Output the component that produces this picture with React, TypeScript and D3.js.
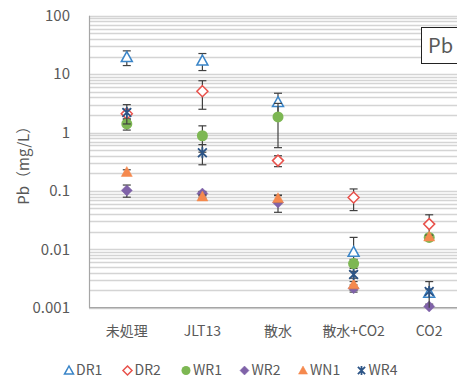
import React, { useEffect, useRef } from 'react';
import * as d3 from 'd3';

// categories and series values (Pb, mg/L)
const categories = ['未処理', 'JLT13', '散水', '散水+CO2', 'CO2'];
const seriesNames = ['DR1', 'DR2', 'WR1', 'WR2', 'WN1', 'WR4'];

const dr1 = [19.5, 17, 3.3, 0.009, 0.0018];
const dr1Err = [5.5, 5.5, 1.4, 0.007, 0.0003];
const dr2 = [2.1, 5.1, 0.33, 0.077, 0.027];
const dr2Err = [0.4, 2.6, 0.07, 0.031, 0.012];
const wr1 = [1.4, 0.88, 1.85, 0.0057, 0.016];
const wr1Err = [0.3, 0.42, 1.3, 0.001, 0.001];
const wr2 = [0.102, 0.09, 0.063, 0.00215, 0.00105];
const wr2Err = [0.024, 0.008, 0.02, 0.0003, 0.0001];
const wn1 = [0.21, 0.08, 0.075, 0.0025, 0.0165];
const wn1Err = [0.02, 0.005, 0.01, 0.0003, 0.001];
const wr4 = [2.2, 0.45, null, 0.0037, 0.0019];
const wr4Err = [0.8, 0.17, null, 0.0005, 0.0009];

const yTicks = [0.001, 0.01, 0.1, 1, 10, 100];
const yTickLabels = ['0.001', '0.01', '0.1', '1', '10', '100'];

type Marker = 'triOpen' | 'diaOpen' | 'circle' | 'diamond' | 'triangle' | 'star';

const styles: { marker: Marker; color: string }[] = [
  { marker: 'triOpen', color: '#3a85c8' },
  { marker: 'diaOpen', color: '#e8524c' },
  { marker: 'circle', color: '#7db753' },
  { marker: 'diamond', color: '#7f62a8' },
  { marker: 'triangle', color: '#f5894e' },
  { marker: 'star', color: '#2c5486' },
];

const values = [dr1, dr2, wr1, wr2, wn1, wr4];
const errors = [dr1Err, dr2Err, wr1Err, wr2Err, wn1Err, wr4Err];

function drawMarker(g: any, type: Marker, color: string, cx: number, cy: number, s: number) {
  const h = s / 2;
  if (type === 'triOpen' || type === 'triangle') {
    const p = `M${cx},${cy - h}L${cx + h},${cy + h * 0.8}L${cx - h},${cy + h * 0.8}Z`;
    g.append('path').attr('d', p)
      .attr('fill', type === 'triangle' ? color : '#fff')
      .attr('stroke', color).attr('stroke-width', type === 'triangle' ? 0.5 : 1.5);
  } else if (type === 'diaOpen' || type === 'diamond') {
    const p = `M${cx},${cy - h}L${cx + h},${cy}L${cx},${cy + h}L${cx - h},${cy}Z`;
    g.append('path').attr('d', p)
      .attr('fill', type === 'diamond' ? color : '#fff')
      .attr('stroke', color).attr('stroke-width', type === 'diamond' ? 0.5 : 1.5);
  } else if (type === 'circle') {
    g.append('circle').attr('cx', cx).attr('cy', cy).attr('r', h).attr('fill', color);
  } else {
    const a = h * 0.8;
    g.append('path')
      .attr('d', `M${cx - a},${cy - a}L${cx + a},${cy + a}M${cx - a},${cy + a}L${cx + a},${cy - a}M${cx},${cy - h}L${cx},${cy + h}`)
      .attr('fill', 'none').attr('stroke', color).attr('stroke-width', 1.8);
  }
}

export default function App() {
  const ref = useRef<HTMLDivElement>(null);

  useEffect(() => {
    const width = 457;
    const height = 378;
    const margin = { top: 15.7, left: 89, bottom: 70.3 };
    const plotRight = 467; // plot runs past the right edge of the picture

    d3.select(ref.current).selectAll('*').remove();

    const svg = d3.select(ref.current)
      .append('svg')
      .attr('width', width)
      .attr('height', height)
      .style('position', 'absolute')
      .style('left', '0px')
      .style('top', '0px')
      .style('background', '#fff')
      .style('font-family', '"Noto Sans CJK JP", "Noto Sans", sans-serif');

    const x = d3.scaleBand()
      .domain(categories)
      .range([margin.left, plotRight]);

    const y = d3.scaleLog()
      .domain([0.001, 100])
      .range([height - margin.bottom, margin.top]);

    // gridlines at every minor tick
    svg.append('g')
      .selectAll('line')
      .data(y.ticks())
      .enter()
      .append('line')
      .attr('x1', margin.left)
      .attr('x2', plotRight)
      .attr('y1', d => Math.round(y(d)) + 0.5)
      .attr('y2', d => Math.round(y(d)) + 0.5)
      .attr('stroke', '#d4d4d4')
      .attr('stroke-width', 1.3);

    // axis lines
    svg.append('line')
      .attr('x1', margin.left + 0.5).attr('x2', margin.left + 0.5)
      .attr('y1', y(100)).attr('y2', y(0.001))
      .attr('stroke', '#a6a6a6').attr('stroke-width', 1.2);
    svg.append('line')
      .attr('x1', margin.left).attr('x2', plotRight)
      .attr('y1', y(0.001)).attr('y2', y(0.001))
      .attr('stroke', '#a6a6a6').attr('stroke-width', 1.2);

    // y tick labels
    svg.append('g')
      .selectAll('text')
      .data(yTicks)
      .enter()
      .append('text')
      .attr('x', 70)
      .attr('y', d => y(d))
      .attr('dy', '0.35em')
      .attr('text-anchor', 'end')
      .attr('font-size', 15)
      .attr('fill', '#595959')
      .text((_, i) => yTickLabels[i]);

    // category labels
    svg.append('g')
      .selectAll('text')
      .data(categories)
      .enter()
      .append('text')
      .attr('x', d => (x(d) as number) + x.bandwidth() / 2)
      .attr('y', 331)
      .attr('dy', '0.35em')
      .attr('text-anchor', 'middle')
      .attr('font-size', 14)
      .attr('fill', '#595959')
      .text(d => d);

    // y axis title
    svg.append('text')
      .attr('transform', `translate(24,${(y(100) + y(0.001)) / 2}) rotate(-90)`)
      .attr('text-anchor', 'middle')
      .attr('dy', '0.35em')
      .attr('font-size', 15)
      .attr('fill', '#595959')
      .text('Pb（mg/L）');

    const capW = 4;
    values.forEach((vals, si) => {
      const g = svg.append('g');
      const st = styles[si];
      vals.forEach((v, ci) => {
        if (v == null) return;
        const e = errors[si][ci] as number;
        const cx = (x(categories[ci]) as number) + x.bandwidth() / 2;
        const lo = Math.max(v - e, 0.001);
        const y1 = y(v + e);
        const y0 = y(lo);
        g.append('line').attr('x1', cx).attr('x2', cx).attr('y1', y1).attr('y2', y0)
          .attr('stroke', '#404040').attr('stroke-width', 1.2);
        g.append('line').attr('x1', cx - capW).attr('x2', cx + capW).attr('y1', y1).attr('y2', y1)
          .attr('stroke', '#404040').attr('stroke-width', 1.2);
        if (v - e > 0.001) {
          g.append('line').attr('x1', cx - capW).attr('x2', cx + capW).attr('y1', y0).attr('y2', y0)
            .attr('stroke', '#404040').attr('stroke-width', 1.2);
        }
      });
      vals.forEach((v, ci) => {
        if (v == null) return;
        const cx = (x(categories[ci]) as number) + x.bandwidth() / 2;
        drawMarker(g, st.marker, st.color, cx, y(v), 11);
      });
    });

    // "Pb" label box
    svg.append('rect')
      .attr('x', 421.5).attr('y', 27.5)
      .attr('width', 50).attr('height', 36)
      .attr('fill', '#fff').attr('stroke', '#222').attr('stroke-width', 1);
    svg.append('text')
      .attr('x', 428).attr('y', 46)
      .attr('dy', '0.35em')
      .attr('font-size', 20)
      .attr('fill', '#595959')
      .text('Pb');

    // legend
    const legend = svg.append('g');
    seriesNames.forEach((name, i) => {
      const lx = 69 + i * 58.5;
      const ly = 370.5;
      drawMarker(legend, styles[i].marker, styles[i].color, lx, ly, 9);
      legend.append('text')
        .attr('x', lx + 7).attr('y', ly)
        .attr('dy', '0.35em')
        .attr('font-size', 14)
        .attr('fill', '#595959')
        .text(name);
    });
  }, []);

  return <div ref={ref} />;
}
